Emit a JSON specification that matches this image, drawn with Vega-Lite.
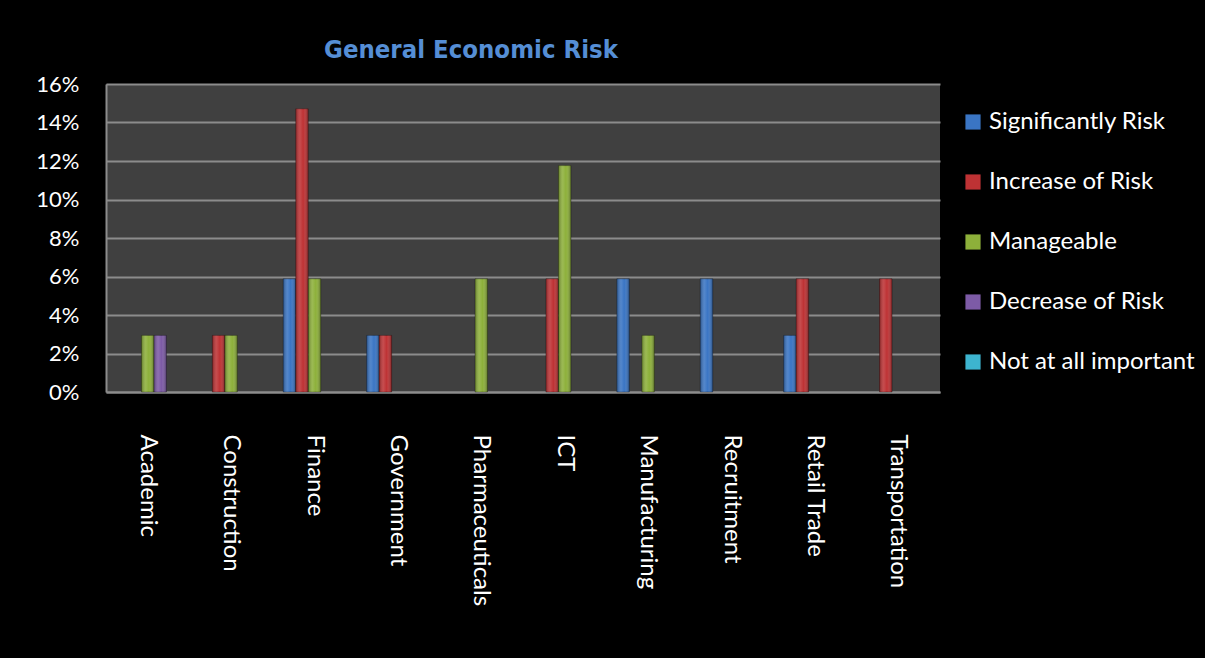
{
  "$schema": "https://vega.github.io/schema/vega-lite/v6.json",
  "autosize": "none",
  "width": 834,
  "height": 308,
  "padding": {"left": 106, "top": 84, "right": 265, "bottom": 266},
  "background": "#000000",
  "title": {
    "text": "General Economic Risk",
    "font": "DejaVu Sans Condensed",
    "fontSize": 25.5,
    "fontWeight": "bold",
    "color": "#558ED5",
    "anchor": "middle",
    "dx": -52,
    "offset": 10
  },
  "data": {
    "values": [
      {"sector": "Academic", "level": "Manageable", "pct": 0.0294},
      {"sector": "Academic", "level": "Decrease of Risk", "pct": 0.0294},
      {"sector": "Construction", "level": "Increase of Risk", "pct": 0.0294},
      {"sector": "Construction", "level": "Manageable", "pct": 0.0294},
      {"sector": "Finance", "level": "Significantly Risk", "pct": 0.0588},
      {"sector": "Finance", "level": "Increase of Risk", "pct": 0.1471},
      {"sector": "Finance", "level": "Manageable", "pct": 0.0588},
      {"sector": "Government", "level": "Significantly Risk", "pct": 0.0294},
      {"sector": "Government", "level": "Increase of Risk", "pct": 0.0294},
      {"sector": "Pharmaceuticals", "level": "Manageable", "pct": 0.0588},
      {"sector": "ICT", "level": "Increase of Risk", "pct": 0.0588},
      {"sector": "ICT", "level": "Manageable", "pct": 0.1176},
      {"sector": "Manufacturing", "level": "Significantly Risk", "pct": 0.0588},
      {"sector": "Manufacturing", "level": "Manageable", "pct": 0.0294},
      {"sector": "Recruitment", "level": "Significantly Risk", "pct": 0.0588},
      {"sector": "Retail Trade", "level": "Significantly Risk", "pct": 0.0294},
      {"sector": "Retail Trade", "level": "Increase of Risk", "pct": 0.0588},
      {"sector": "Transportation", "level": "Increase of Risk", "pct": 0.0588}
    ]
  },
  "encoding": {
    "x": {
      "field": "sector",
      "type": "nominal",
      "sort": ["Academic", "Construction", "Finance", "Government", "Pharmaceuticals", "ICT", "Manufacturing", "Recruitment", "Retail Trade", "Transportation"],
      "scale": {"paddingInner": 0.25, "paddingOuter": 0.125},
      "axis": {
        "title": null,
        "labelAngle": 90,
        "labelAlign": "left",
        "labelBaseline": "middle",
        "labelFont": "Lato",
        "labelFontSize": 24,
        "labelColor": "#FFFFFF",
        "labelPadding": 42,
        "labelLimit": 300,
        "domainColor": "#8C8C8C",
        "domainWidth": 2,
        "ticks": false
      }
    },
    "xOffset": {
      "field": "level",
      "type": "nominal",
      "scale": {"domain": ["Significantly Risk", "Increase of Risk", "Manageable", "Decrease of Risk", "Not at all important"], "paddingInner": 0, "paddingOuter": 0}
    },
    "y": {
      "field": "pct",
      "type": "quantitative",
      "scale": {"domain": [0, 0.16], "nice": false},
      "axis": {
        "title": null,
        "format": ".0%",
        "values": [0, 0.02, 0.04, 0.06, 0.08, 0.1, 0.12, 0.14, 0.16],
        "labelFont": "Lato",
        "labelFontSize": 22,
        "labelColor": "#FFFFFF",
        "labelPadding": 27,
        "ticks": false,
        "domainColor": "#8C8C8C",
        "domainWidth": 2,
        "gridColor": "#8C8C8C",
        "gridWidth": 2
      }
    }
  },
  "layer": [
    {
      "mark": {"type": "bar", "stroke": "#000000", "strokeOpacity": 0.3, "strokeWidth": 1},
      "encoding": {
        "color": {
          "field": "level",
          "type": "nominal",
          "scale": {
            "domain": ["Significantly Risk", "Increase of Risk", "Manageable", "Decrease of Risk", "Not at all important"],
            "range": ["#3A75C4", "#BE3234", "#8DB03A", "#7D5BA6", "#3DB4CF"]
          },
          "legend": {
            "title": null,
            "orient": "none",
            "legendX": 855,
            "legendY": 26,
            "symbolType": "square",
            "symbolSize": 230,
            "symbolStrokeWidth": 0,
            "symbolOpacity": 1,
            "labelFont": "Lato",
            "labelFontSize": 24,
            "labelColor": "#FFFFFF",
            "labelOffset": 4,
            "labelLimit": 300,
            "rowPadding": 36
          }
        }
      }
    },
    {
      "mark": {
        "type": "bar",
        "color": {
          "gradient": "linear",
          "x1": 0, "x2": 1, "y1": 0, "y2": 0,
          "stops": [
            {"offset": 0, "color": "rgba(0,0,0,0.3)"},
            {"offset": 0.35, "color": "rgba(255,255,255,0.12)"},
            {"offset": 0.6, "color": "rgba(255,255,255,0.0)"},
            {"offset": 1, "color": "rgba(0,0,0,0.35)"}
          ]
        }
      }
    }
  ],
  "config": {
    "view": {"fill": "#404040", "stroke": null}
  }
}
